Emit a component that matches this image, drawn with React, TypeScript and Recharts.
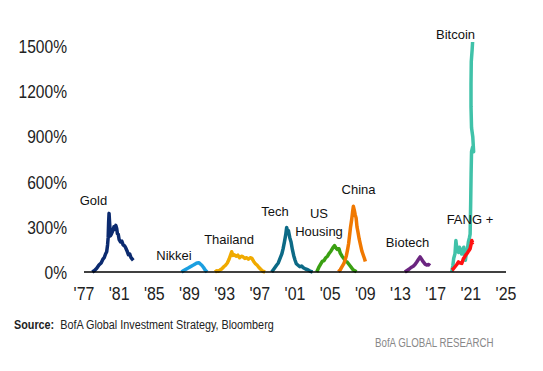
import React from 'react';
import { LineChart, Line, XAxis, YAxis, ReferenceDot } from 'recharts';

// [year, % gain from start]
const gold = [
  [1977.94, 0], [1978.2, 10], [1978.45, 25], [1978.7, 46], [1978.95, 60], [1979.15, 85],
  [1979.3, 95], [1979.45, 120], [1979.58, 135], [1979.68, 180], [1979.75, 230], [1979.8, 330],
  [1979.85, 390], [1979.92, 320], [1980.0, 240], [1980.1, 250], [1980.25, 270], [1980.4, 300],
  [1980.5, 285], [1980.62, 310], [1980.72, 290], [1980.8, 255], [1980.9, 250], [1981.0, 215],
  [1981.15, 200], [1981.3, 205], [1981.45, 180], [1981.6, 175], [1981.75, 160], [1981.9, 140],
  [1982.05, 115], [1982.2, 120], [1982.35, 95], [1982.5, 85], [1982.6, 78],
];
const nikkei = [
  [1988.1, 0], [1988.3, 8], [1988.5, 15], [1988.7, 22], [1988.9, 28], [1989.1, 35], [1989.3, 42],
  [1989.5, 48], [1989.7, 55], [1989.9, 60], [1990.05, 62], [1990.2, 55], [1990.4, 45],
  [1990.6, 30], [1990.8, 12], [1991.0, 0],
];
const thailand = [
  [1991.9, 0], [1992.1, 8], [1992.3, 5], [1992.5, 15], [1992.7, 22], [1992.9, 35], [1993.1, 45],
  [1993.3, 60], [1993.5, 85], [1993.65, 110], [1993.8, 135], [1993.95, 110], [1994.1, 115],
  [1994.3, 105], [1994.5, 112], [1994.7, 95], [1994.9, 105], [1995.1, 100], [1995.3, 90],
  [1995.5, 95], [1995.7, 85], [1995.9, 95], [1996.1, 90], [1996.3, 70], [1996.5, 55],
  [1996.7, 45], [1996.9, 30], [1997.1, 18], [1997.35, 5], [1997.6, 0],
];
const tech = [
  [1998.35, 0], [1998.6, 20], [1998.9, 45], [1999.1, 60], [1999.3, 90], [1999.5, 120],
  [1999.65, 155], [1999.8, 200], [1999.95, 250], [2000.05, 296], [2000.15, 270], [2000.25, 275],
  [2000.4, 230], [2000.55, 200], [2000.7, 150], [2000.85, 110], [2001.0, 80], [2001.15, 55],
  [2001.35, 45], [2001.55, 35], [2001.75, 40], [2001.95, 28], [2002.2, 20], [2002.45, 15],
  [2002.7, 6], [2003.0, 0],
];
const usHousing = [
  [2003.47, 0], [2003.7, 30], [2003.9, 50], [2004.1, 70], [2004.3, 75], [2004.5, 95],
  [2004.7, 105], [2004.9, 125], [2005.1, 140], [2005.3, 160], [2005.5, 175], [2005.65, 160],
  [2005.8, 150], [2006.0, 155], [2006.15, 125], [2006.35, 105], [2006.55, 90], [2006.75, 70],
  [2006.95, 65], [2007.15, 50], [2007.35, 35], [2007.6, 15], [2008.0, 2],
];
const china = [
  [2005.94, 2], [2006.15, 15], [2006.35, 35], [2006.55, 55], [2006.7, 80], [2006.85, 110],
  [2006.97, 145], [2007.1, 190], [2007.2, 240], [2007.32, 300], [2007.45, 350], [2007.55, 400],
  [2007.64, 437], [2007.75, 410], [2007.85, 380], [2007.95, 360], [2008.05, 300], [2008.15, 270],
  [2008.3, 220], [2008.45, 180], [2008.6, 140], [2008.75, 115], [2008.9, 90], [2009.0, 70],
];
const biotech = [
  [2013.5, 0], [2013.75, 10], [2014.0, 20], [2014.2, 30], [2014.45, 38], [2014.65, 50],
  [2014.85, 67], [2015.05, 85], [2015.23, 100], [2015.4, 85], [2015.6, 67], [2015.8, 52],
  [2015.98, 46], [2016.2, 50], [2016.36, 42],
];
const bitcoin = [
  [2018.83, 2], [2018.95, 40], [2019.05, 90], [2019.2, 122], [2019.3, 209], [2019.4, 160],
  [2019.5, 140], [2019.6, 130], [2019.7, 165], [2019.8, 150], [2019.95, 120], [2020.1, 150],
  [2020.2, 165], [2020.3, 100], [2020.38, 78], [2020.5, 130], [2020.6, 150], [2020.72, 200],
  [2020.85, 230], [2020.92, 252], [2020.98, 450], [2021.03, 650], [2021.08, 800], [2021.2, 830],
  [2021.32, 800], [2021.22, 900], [2021.08, 960], [2021.02, 1100], [2021.02, 1250],
  [2021.05, 1400], [2021.15, 1480], [2021.2, 1530],
];
const fang = [
  [2018.83, 13], [2019.0, 20], [2019.2, 35], [2019.4, 50], [2019.59, 67], [2019.8, 60],
  [2019.97, 57], [2020.16, 89], [2020.3, 100], [2020.45, 115], [2020.6, 125], [2020.75, 140],
  [2020.92, 155], [2021.05, 190], [2021.11, 209], [2021.2, 195], [2021.3, 198],
];

const xTicks = [1977, 1981, 1985, 1989, 1993, 1997, 2001, 2005, 2009, 2013, 2017, 2021, 2025];
const yTicks = [0, 300, 600, 900, 1200, 1500];

// label text, year, value
const labels: [string, number, number][] = [
  ['Gold', 1978.08, 476],
  ['Nikkei', 1987.24, 111],
  ['Thailand', 1993.5, 215],
  ['Tech', 1998.73, 404],
  ['US', 2003.73, 388],
  ['Housing', 2003.73, 267],
  ['China', 2008.23, 551],
  ['Biotech', 2013.8, 199],
  ['FANG +', 2020.9, 349],
  ['Bitcoin', 2019.26, 1582],
];

const series = [
  { name: 'Gold', data: gold, color: '#0b2a6f' },
  { name: 'Nikkei', data: nikkei, color: '#1b9fe0' },
  { name: 'Thailand', data: thailand, color: '#f0aa00' },
  { name: 'Tech', data: tech, color: '#0c6a86' },
  { name: 'US Housing', data: usHousing, color: '#3aa012' },
  { name: 'China', data: china, color: '#f07800' },
  { name: 'Biotech', data: biotech, color: '#6b2580' },
  { name: 'Bitcoin', data: bitcoin, color: '#40c2a9' },
  { name: 'FANG +', data: fang, color: '#ff1010' },
];

const toRows = (d: number[][]) => d.map(([year, value]) => ({ year, value }));

const font = "'Liberation Sans', Arial, sans-serif";

// narrow-looking tick text (no condensed font installed)
function XTick(props: any) {
  const { x, y, payload } = props;
  return (
    <text
      transform={`translate(${x},${y}) scale(0.84,1)`}
      textAnchor="middle"
      dy="0.71em"
      fontSize={19}
      fill="#222"
      fontFamily={font}
    >
      {"'" + String(payload.value).slice(2)}
    </text>
  );
}

function YTick(props: any) {
  const { x, y, payload } = props;
  return (
    <text
      transform={`translate(${x},${y}) scale(0.82,1)`}
      textAnchor="end"
      dy="0.355em"
      fontSize={19}
      fill="#222"
      fontFamily={font}
    >
      {payload.value + '%'}
    </text>
  );
}

export default function App() {
  return (
    <div style={{ position: 'absolute', left: 0, top: 0, width: 543, height: 371, background: '#fff' }}>
      <LineChart width={543} height={371} margin={{ top: 42, right: 37, left: 14, bottom: 69 }}>
        <XAxis
          type="number"
          dataKey="year"
          domain={[1977, 2025]}
          ticks={xTicks}
          axisLine={{ stroke: '#000', strokeWidth: 1.5 }}
          tickLine={false}
          tickSize={0}
          tickMargin={14}
          height={30}
          interval={0}
          tick={<XTick />}
        />
        <YAxis
          type="number"
          domain={[0, 1500]}
          ticks={yTicks}
          axisLine={false}
          tickLine={false}
          tickSize={0}
          tickMargin={17}
          width={70}
          interval={0}
          tick={<YTick />}
        />
        {series.map((s) => (
          <Line
            key={s.name}
            data={toRows(s.data)}
            dataKey="value"
            type="linear"
            stroke={s.color}
            strokeWidth={3.5}
            strokeLinejoin="round"
            dot={false}
            activeDot={false}
            isAnimationActive={false}
          />
        ))}
        {labels.map(([text, x, y]) => (
          <ReferenceDot
            key={text}
            x={x}
            y={y}
            r={0}
            ifOverflow="visible"
            stroke="none"
            fill="none"
            label={{
              value: text,
              position: 'center',
              fill: '#111',
              fontSize: 13,
              fontFamily: font,
            }}
          />
        ))}
      </LineChart>
      <div
        style={{
          position: 'absolute',
          left: 14,
          top: 318,
          fontSize: 12,
          color: '#222',
          fontFamily: font,
          whiteSpace: 'nowrap',
          transform: 'scaleX(0.9)',
          transformOrigin: 'left top',
        }}
      >
        <b>Source:</b>&nbsp; BofA Global Investment Strategy, Bloomberg
      </div>
      <div
        style={{
          position: 'absolute',
          left: 375,
          top: 336,
          fontSize: 12,
          color: '#888',
          fontFamily: font,
          whiteSpace: 'nowrap',
          transform: 'scaleX(0.81)',
          transformOrigin: 'left top',
        }}
      >
        BofA GLOBAL RESEARCH
      </div>
    </div>
  );
}
